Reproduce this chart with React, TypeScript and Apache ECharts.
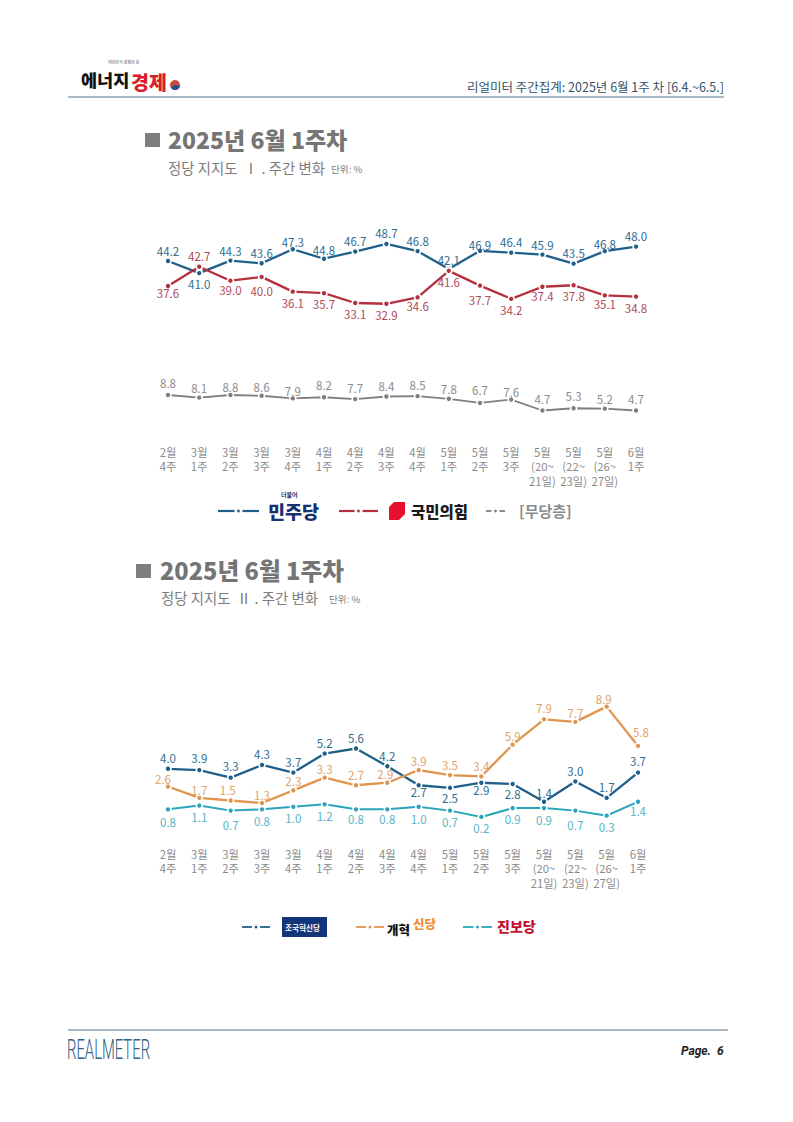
import React, { useEffect, useRef } from "react";
import * as echarts from "echarts";

const FONT = '"Noto Sans CJK KR", "Noto Sans", sans-serif';

const categories = [
  "2월\n4주", "3월\n1주", "3월\n2주", "3월\n3주", "3월\n4주", "4월\n1주", "4월\n2주", "4월\n3주",
  "4월\n4주", "5월\n1주", "5월\n2주", "5월\n3주", "5월\n(20~\n21일)", "5월\n(22~\n23일)", "5월\n(26~\n27일)", "6월\n1주",
];

const minju = [44.2, 41.0, 44.3, 43.6, 47.3, 44.8, 46.7, 48.7, 46.8, 42.1, 46.9, 46.4, 45.9, 43.5, 46.8, 48.0];
const ppp = [37.6, 42.7, 39.0, 40.0, 36.1, 35.7, 33.1, 32.9, 34.6, 41.6, 37.7, 34.2, 37.4, 37.8, 35.1, 34.8];
const none = [8.8, 8.1, 8.8, 8.6, 7.9, 8.2, 7.7, 8.4, 8.5, 7.8, 6.7, 7.6, 4.7, 5.3, 5.2, 4.7];
const rebuilding = [4.0, 3.9, 3.3, 4.3, 3.7, 5.2, 5.6, 4.2, 2.7, 2.5, 2.9, 2.8, 1.4, 3.0, 1.7, 3.7];
const reform = [2.6, 1.7, 1.5, 1.3, 2.3, 3.3, 2.7, 2.9, 3.9, 3.5, 3.4, 5.9, 7.9, 7.7, 8.9, 5.8];
const progressive = [0.8, 1.1, 0.7, 0.8, 1.0, 1.2, 0.8, 0.8, 1.0, 0.7, 0.2, 0.9, 0.9, 0.7, 0.3, 1.4];

// Vertical distance of each value label from its point, in pixels.
const minjuDy = [-10, 11, -10, -10, -7, -9, -11, -11, -10, -9, -6, -11, -10, -11, -7, -11];
const pppDy = [7, -11, 9, 14, 11, 11, 11, 11, 9, 11, 14, 11, 9, 11, 9, 11];
const noneDy = [-12, -10, -8, -9, -7, -12, -11, -11, -11, -10, -13, -8, -12, -12, -10, -12];
const rebuildingDy = [-11, -12, -12, -11, -11, -11, -10, -10, 7, 10, 7, 10, -9, -10, -11, -12];
const reformDy = [-8, -8, -10, -8, -9, -9, -10, -9, -9, -10, -10, -9, -11, -9, -8, -14];
const reformDx = [-5, 0, -3, 0, 0, 0, 0, -2, 0, 0, 0, 0, 0, 0, -3, 3];
const progressiveDy = [13, 11, 14, 12, 11, 12, 10, 10, 12, 11, 11, 11, 12, 14, 11, 9];

const BLUE = "#1f5f8a";
const RED = "#b4303f";
const GRAY = "#7f7f7f";
const ORANGE = "#e0954f";
const TEAL = "#2aa5bb";

function line(
  name: string, values: number[], color: string, labelColor: string, width: number,
  gridIndex: number, dy: number[], dx?: number[],
) {
  return {
    name,
    type: "line",
    xAxisIndex: gridIndex,
    yAxisIndex: gridIndex,
    smooth: false,
    clip: false,
    symbol: "circle",
    symbolSize: 6,
    lineStyle: { color, width },
    itemStyle: { color, borderColor: "#ffffff", borderWidth: 1.6 },
    label: {
      show: true,
      position: "inside",
      color: labelColor,
      fontFamily: FONT,
      fontSize: 11.5,
      formatter: (p: any) => Number(p.value).toFixed(1),
    },
    data: values.map((value, i) => ({
      value,
      label: { offset: [dx ? dx[i] : 0, dy[i]] },
    })),
  };
}

function legendMark(x1: number, x2: number, y: number, color: string, width = 2.2) {
  const mid = (x1 + x2) / 2;
  return [
    { type: "line", shape: { x1, y1: y, x2: mid - 4, y2: y }, style: { stroke: color, lineWidth: width } },
    { type: "circle", shape: { cx: mid, cy: y, r: 1.4 }, style: { fill: color } },
    { type: "line", shape: { x1: mid + 4, y1: y, x2, y2: y }, style: { stroke: color, lineWidth: width } },
  ];
}

function text(
  x: number, y: number, t: string, fontSize: number, fill: string,
  extra: Record<string, unknown> = {}, styleExtra: Record<string, unknown> = {},
) {
  return {
    type: "text",
    x,
    y,
    ...extra,
    style: { text: t, fontSize, fill, fontFamily: FONT, textVerticalAlign: "middle", verticalAlign: "middle", ...styleExtra },
  };
}

function heading(
  sqX: number, sqY: number, tX: number, tY: number, titleSize: number,
  sX: number, sY: number, roman: string, unitX: number,
) {
  return [
    { type: "rect", shape: { x: sqX, y: sqY, width: 15, height: 14 }, style: { fill: "#7d7d7d" } },
    text(tX, tY, "2025년 6월 1주차", titleSize, "#757575", {}, { fontWeight: "900" }),
    text(sX, sY, `정당 지지도  ${roman} . 주간 변화`, 14.4, "#7d7d7d"),
    text(unitX, sY + 1, "단위: %", 9.6, "#7d7d7d"),
  ];
}

const graphics: any[] = [
  // header
  text(81, 79, "에너지", 17.5, "#111111", {}, { fontWeight: "900" }),
  text(131, 81, "경제", 19.5, "#d8202a", {}, { fontWeight: "900" }),
  text(108, 62, "대한민국 경제의 힘", 4, "#555555"),
  { type: "circle", shape: { cx: 175, cy: 85, r: 5 }, style: { fill: "#c94a3a" } },
  { type: "sector", shape: { cx: 175, cy: 85, r: 5, startAngle: 0.2, endAngle: 2.6 }, style: { fill: "#1d4f91" } },
  text(467, 86, "리얼미터 주간집계: 2025년 6월 1주 차 [6.4.~6.5.]", 12.5, "#35526a"),
  { type: "line", shape: { x1: 68, y1: 97, x2: 724, y2: 97 }, style: { stroke: "#4f6f8a", lineWidth: 1.2 } },

  // section headings
  ...heading(145, 133, 168, 139, 23, 168, 167.5, "Ⅰ", 331),
  ...heading(136, 564, 160, 570, 23.6, 161, 597.5, "Ⅱ", 329),

  // legend of the first chart
  ...legendMark(218, 259, 511, BLUE),
  text(268, 511, "민주당", 18.5, "#17306e", {}, { fontWeight: "900" }),
  text(281, 494, "더불어", 6, "#17306e", {}, { fontWeight: "bold" }),
  ...legendMark(339, 378, 511, RED),
  {
    type: "polygon",
    shape: { points: [[394, 502], [405, 502], [405, 514], [399, 520], [389, 520], [389, 507]] },
    style: { fill: "#e8112d" },
  },
  text(411, 511, "국민의힘", 15.5, "#1a1a1a", {}, { fontWeight: "900" }),
  ...legendMark(486, 505, 511, GRAY, 1.8),
  text(519, 510, "[무당층]", 15, "#8a8a8a", {}, { fontWeight: "bold" }),

  // legend of the second chart
  ...legendMark(242, 270, 927, BLUE, 1.8),
  { type: "rect", shape: { x: 282, y: 917, width: 45, height: 20 }, style: { fill: "#13357a" } },
  text(285, 927, "조국혁신당", 7.6, "#ffffff", {}, { fontWeight: "bold" }),
  ...legendMark(356, 384, 927, ORANGE, 1.8),
  text(387, 929, "개혁", 12.5, "#111111", {}, { fontWeight: "900" }),
  text(413, 923, "신당", 12.5, "#ee8f3a", {}, { fontWeight: "900" }),
  ...legendMark(463, 492, 927, TEAL, 1.8),
  text(497, 926, "진보당", 14, "#c2142e", {}, { fontWeight: "900" }),

  // footer
  { type: "line", shape: { x1: 68, y1: 1030, x2: 728, y2: 1030 }, style: { stroke: "#4f6f8a", lineWidth: 1.2 } },
  text(67, 1050, "REALMETER", 27, "#2f5f82", { scaleX: 0.55 }, { fontWeight: "300", fontFamily: "Roboto" }),
  text(681, 1051, "Page.  6", 12, "#222222", {}, { fontWeight: "bold", fontStyle: "italic", fontFamily: "Roboto" }),
];

export default function App() {
  const ref = useRef<HTMLDivElement>(null);

  useEffect(() => {
    document.body.style.margin = "0";
    const chart = echarts.init(ref.current!, undefined, { renderer: "svg" });
    const xBase = {
      type: "category",
      data: categories,
      boundaryGap: false,
      axisLine: { show: false },
      axisTick: { show: false },
      splitLine: { show: false },
    };
    const xLabel = { interval: 0, color: "#8a8a8a", fontFamily: FONT, fontSize: 11.3, lineHeight: 14.6, verticalAlign: "top" };
    chart.setOption({
      animation: false,
      backgroundColor: "#ffffff",
      grid: [
        { left: 168, width: 468, top: 201.2, height: 227.1 },
        { left: 168, width: 470, top: 692.7, height: 126.8 },
      ],
      xAxis: [
        { ...xBase, gridIndex: 0, axisLabel: { ...xLabel, margin: 16 } },
        { ...xBase, gridIndex: 1, axisLabel: { ...xLabel, margin: 27 } },
      ],
      yAxis: [
        { type: "value", gridIndex: 0, min: 0, max: 60, show: false },
        { type: "value", gridIndex: 1, min: 0, max: 10, show: false },
      ],
      series: [
        line("[무당층]", none, GRAY, "#8c8c8c", 1.8, 0, noneDy),
        line("더불어민주당", minju, BLUE, "#2f6d90", 2.3, 0, minjuDy),
        line("국민의힘", ppp, RED, "#b04a58", 2.3, 0, pppDy),
        line("진보당", progressive, TEAL, "#56b4c6", 2, 1, progressiveDy),
        line("조국혁신당", rebuilding, BLUE, "#2f6d90", 2.3, 1, rebuildingDy),
        line("개혁신당", reform, ORANGE, "#e0a36c", 2.3, 1, reformDy, reformDx),
      ],
      graphic: graphics,
    });
    return () => chart.dispose();
  }, []);

  return <div ref={ref} style={{ position: "absolute", left: 0, top: 0, width: 793, height: 1122 }} />;
}
